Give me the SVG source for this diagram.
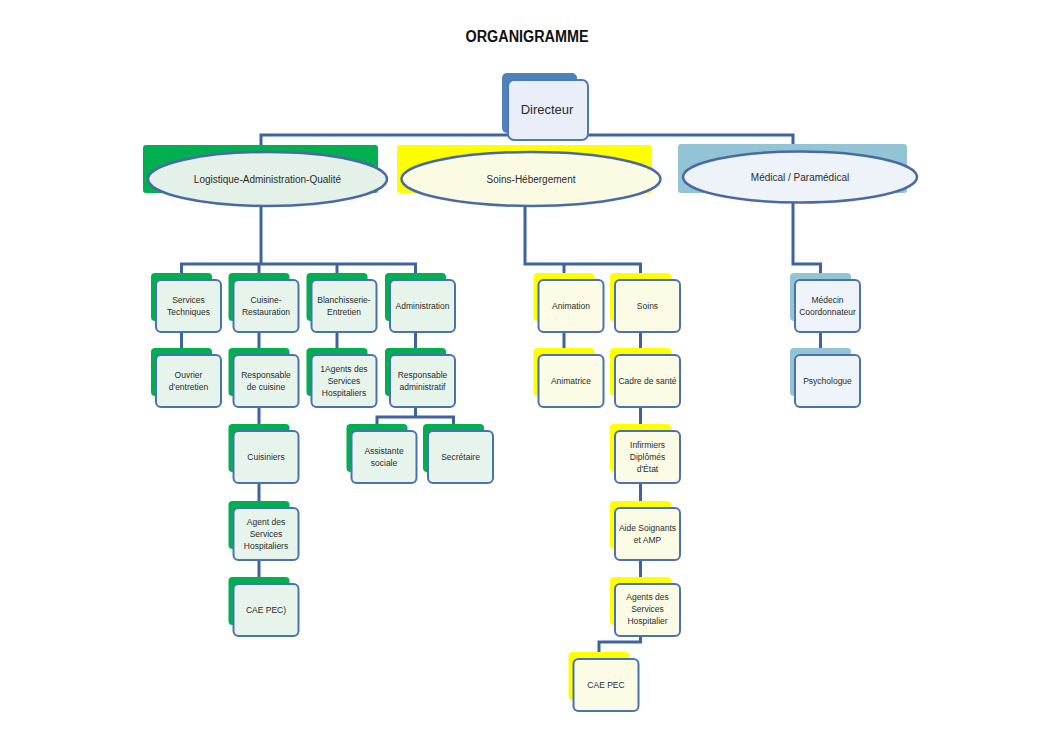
<svg xmlns="http://www.w3.org/2000/svg" width="1044" height="738" viewBox="0 0 1044 738">
<style>
.bg{fill:#ffffff}
.title{font-family:"Liberation Sans",Arial,sans-serif;font-weight:bold;font-size:16px;fill:#111;text-anchor:middle}
.t{font-family:"Liberation Sans",Arial,sans-serif;font-size:8.5px;fill:#2b2b2b;text-anchor:middle}
.tl{font-family:"Liberation Sans",Arial,sans-serif;font-size:10px;fill:#2b2b2b;text-anchor:middle}
.td{font-family:"Liberation Sans",Arial,sans-serif;font-size:13px;fill:#2b2b2b;text-anchor:middle}
.conn{fill:none;stroke:#3f62a0;stroke-width:3;stroke-linejoin:miter}
.bk-g{fill:#00b050}
.bk-y{fill:#ffff00}
.bk-b{fill:#93c4d6}
.fr{stroke:#4a72b0;stroke-width:2}
.fr-g{fill:#e7f4eb}
.fr-y{fill:#fcfce6}
.fr-b{fill:#eef4f9}
.ell{stroke:#4a6aa6;stroke-width:2.5}
</style>
<rect class="bg" x="0" y="0" width="1044" height="738"/>
<text class="title" x="527" y="42" textLength="123" lengthAdjust="spacingAndGlyphs">ORGANIGRAMME</text>

<g id="connectors">
<path class="conn" d="M261,145 V135 H793 V144"/>
<path class="conn" d="M261,207 V264"/>
<path class="conn" d="M181.5,273 V264 H415.5 V273 M259,264 V273 M337,264 V273"/>
<path class="conn" d="M525,207 V264 H640.5 V273 M564,264 V273"/>
<path class="conn" d="M793,203 V264 H820.5 V273"/>
<path class="conn" d="M181.5,332 V348"/>
<path class="conn" d="M259,332 V348 M259,407 V424 M259,483 V501 M259,560 V577"/>
<path class="conn" d="M337,332 V348"/>
<path class="conn" d="M415.5,332 V348 M415.5,407 V417"/>
<path class="conn" d="M377,424 V417 H453.5 V424"/>
<path class="conn" d="M564,332 V348"/>
<path class="conn" d="M640.5,332 V348 M640.5,407 V424 M640.5,483 V501 M640.5,560 V577"/>
<path class="conn" d="M640.5,636 V642 H599 V652"/>
<path class="conn" d="M820.5,332 V348"/>
</g>

<g id="directeur">
<rect x="502" y="73" width="75" height="60" rx="5" fill="#4f81bd"/>
<rect x="508" y="80" width="80" height="60" rx="6" fill="#eaeef8" stroke="#4f79b8" stroke-width="2"/>
<text class="td" x="547" y="114">Directeur</text>
</g>

<g id="logistique">
<rect class="bk-g" x="143" y="145" width="235" height="48" rx="3"/>
<ellipse class="ell" cx="267.5" cy="179" rx="119.5" ry="27" fill="#e3f1e8"/>
<text class="tl" x="267.5" y="182.5">Logistique-Administration-Qualité</text>
</g>
<g id="soins-hebergement">
<rect class="bk-y" x="397" y="145" width="255" height="48" rx="3"/>
<ellipse class="ell" cx="531" cy="179" rx="129.5" ry="27" fill="#fbfbe3"/>
<text class="tl" x="531" y="182.5">Soins-Hébergement</text>
</g>
<g id="medical">
<rect class="bk-b" x="678" y="144" width="229" height="49" rx="3"/>
<ellipse class="ell" cx="800" cy="177" rx="117" ry="25.5" fill="#edf3f9"/>
<text class="tl" x="800" y="180.5">Médical / Paramédical</text>
</g>

<!-- Green branch -->
<g id="services-techniques">
<rect class="bk-g" x="151" y="273" width="61" height="48" rx="4"/>
<rect class="fr fr-g" x="156" y="280" width="65" height="52" rx="5"/>
<text class="t" x="188.5" y="303">Services</text><text class="t" x="188.5" y="315">Techniques</text>
</g>
<g id="ouvrier">
<rect class="bk-g" x="151" y="348" width="61" height="48" rx="4"/>
<rect class="fr fr-g" x="156" y="355" width="65" height="52" rx="5"/>
<text class="t" x="188.5" y="378">Ouvrier</text><text class="t" x="188.5" y="390">d'entretien</text>
</g>
<g id="cuisine-restauration">
<rect class="bk-g" x="228.5" y="273" width="61" height="48" rx="4"/>
<rect class="fr fr-g" x="233.5" y="280" width="65" height="52" rx="5"/>
<text class="t" x="266" y="303">Cuisine-</text><text class="t" x="266" y="315">Restauration</text>
</g>
<g id="responsable-cuisine">
<rect class="bk-g" x="228.5" y="348" width="61" height="48" rx="4"/>
<rect class="fr fr-g" x="233.5" y="355" width="65" height="52" rx="5"/>
<text class="t" x="266" y="378">Responsable</text><text class="t" x="266" y="390">de cuisine</text>
</g>
<g id="cuisiniers">
<rect class="bk-g" x="228.5" y="424" width="61" height="48" rx="4"/>
<rect class="fr fr-g" x="233.5" y="431" width="65" height="52" rx="5"/>
<text class="t" x="266" y="460">Cuisiniers</text>
</g>
<g id="agent-services-hosp">
<rect class="bk-g" x="228.5" y="501" width="61" height="48" rx="4"/>
<rect class="fr fr-g" x="233.5" y="508" width="65" height="52" rx="5"/>
<text class="t" x="266" y="525">Agent des</text><text class="t" x="266" y="537">Services</text><text class="t" x="266" y="549">Hospitaliers</text>
</g>
<g id="cae-pec-1">
<rect class="bk-g" x="228.5" y="577" width="61" height="48" rx="4"/>
<rect class="fr fr-g" x="233.5" y="584" width="65" height="52" rx="5"/>
<text class="t" x="266" y="613">CAE PEC)</text>
</g>
<g id="blanchisserie">
<rect class="bk-g" x="306.5" y="273" width="61" height="48" rx="4"/>
<rect class="fr fr-g" x="311.5" y="280" width="65" height="52" rx="5"/>
<text class="t" x="344" y="303">Blanchisserie-</text><text class="t" x="344" y="315">Entretien</text>
</g>
<g id="agents-services-hosp-1">
<rect class="bk-g" x="306.5" y="348" width="61" height="48" rx="4"/>
<rect class="fr fr-g" x="311.5" y="355" width="65" height="52" rx="5"/>
<text class="t" x="344" y="372">1Agents des</text><text class="t" x="344" y="384">Services</text><text class="t" x="344" y="396">Hospitaliers</text>
</g>
<g id="administration">
<rect class="bk-g" x="385" y="273" width="61" height="48" rx="4"/>
<rect class="fr fr-g" x="390" y="280" width="65" height="52" rx="5"/>
<text class="t" x="422.5" y="309">Administration</text>
</g>
<g id="responsable-admin">
<rect class="bk-g" x="385" y="348" width="61" height="48" rx="4"/>
<rect class="fr fr-g" x="390" y="355" width="65" height="52" rx="5"/>
<text class="t" x="422.5" y="378">Responsable</text><text class="t" x="422.5" y="390">administratif</text>
</g>
<g id="assistante-sociale">
<rect class="bk-g" x="346.5" y="424" width="61" height="48" rx="4"/>
<rect class="fr fr-g" x="351.5" y="431" width="65" height="52" rx="5"/>
<text class="t" x="384" y="454">Assistante</text><text class="t" x="384" y="466">sociale</text>
</g>
<g id="secretaire">
<rect class="bk-g" x="423" y="424" width="61" height="48" rx="4"/>
<rect class="fr fr-g" x="428" y="431" width="65" height="52" rx="5"/>
<text class="t" x="460.5" y="460">Secrétaire</text>
</g>

<!-- Yellow branch -->
<g id="animation">
<rect class="bk-y" x="533.5" y="273" width="61" height="48" rx="4"/>
<rect class="fr fr-y" x="538.5" y="280" width="65" height="52" rx="5"/>
<text class="t" x="571" y="309">Animation</text>
</g>
<g id="animatrice">
<rect class="bk-y" x="533.5" y="348" width="61" height="48" rx="4"/>
<rect class="fr fr-y" x="538.5" y="355" width="65" height="52" rx="5"/>
<text class="t" x="571" y="384">Animatrice</text>
</g>
<g id="soins">
<rect class="bk-y" x="610" y="273" width="61" height="48" rx="4"/>
<rect class="fr fr-y" x="615" y="280" width="65" height="52" rx="5"/>
<text class="t" x="647.5" y="309">Soins</text>
</g>
<g id="cadre-sante">
<rect class="bk-y" x="610" y="348" width="61" height="48" rx="4"/>
<rect class="fr fr-y" x="615" y="355" width="65" height="52" rx="5"/>
<text class="t" x="647.5" y="384">Cadre de santé</text>
</g>
<g id="infirmiers">
<rect class="bk-y" x="610" y="424" width="61" height="48" rx="4"/>
<rect class="fr fr-y" x="615" y="431" width="65" height="52" rx="5"/>
<text class="t" x="647.5" y="448">Infirmiers</text><text class="t" x="647.5" y="460">Diplômés</text><text class="t" x="647.5" y="472">d'État</text>
</g>
<g id="aide-soignants">
<rect class="bk-y" x="610" y="501" width="61" height="48" rx="4"/>
<rect class="fr fr-y" x="615" y="508" width="65" height="52" rx="5"/>
<text class="t" x="647.5" y="531">Aide Soignants</text><text class="t" x="647.5" y="543">et AMP</text>
</g>
<g id="agents-services-hospitalier">
<rect class="bk-y" x="610" y="577" width="61" height="48" rx="4"/>
<rect class="fr fr-y" x="615" y="584" width="65" height="52" rx="5"/>
<text class="t" x="647.5" y="600">Agents des</text><text class="t" x="647.5" y="612">Services</text><text class="t" x="647.5" y="624">Hospitalier</text>
</g>
<g id="cae-pec-2">
<rect class="bk-y" x="568.5" y="652" width="61" height="48" rx="4"/>
<rect class="fr fr-y" x="573.5" y="659" width="65" height="52" rx="5"/>
<text class="t" x="606" y="688">CAE PEC</text>
</g>

<!-- Blue branch -->
<g id="medecin">
<rect class="bk-b" x="790" y="273" width="61" height="48" rx="4"/>
<rect class="fr fr-b" x="795" y="280" width="65" height="52" rx="5"/>
<text class="t" x="827.5" y="303">Médecin</text><text class="t" x="827.5" y="315">Coordonnateur</text>
</g>
<g id="psychologue">
<rect class="bk-b" x="790" y="348" width="61" height="48" rx="4"/>
<rect class="fr fr-b" x="795" y="355" width="65" height="52" rx="5"/>
<text class="t" x="827.5" y="384">Psychologue</text>
</g>
</svg>
